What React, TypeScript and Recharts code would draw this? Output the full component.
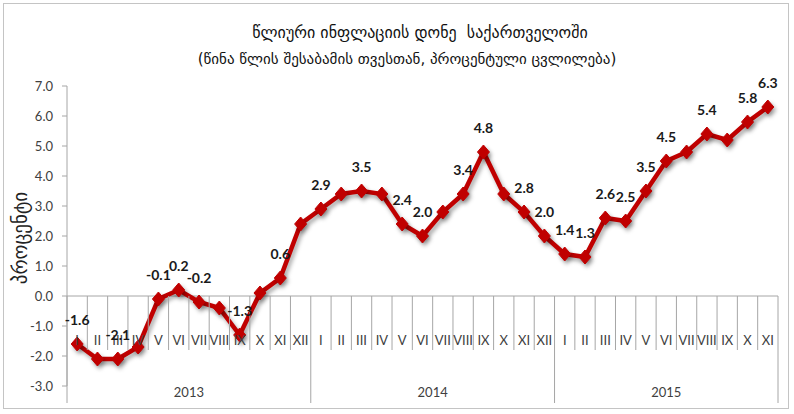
import React from 'react';
import { LineChart, Line, XAxis, YAxis, ReferenceLine, LabelList } from 'recharts';

// annual inflation, % change vs same month of previous year
const YEARS = ['2013', '2014', '2015'];
const MONTHS_2013 = ['I', 'II', 'III', 'IV', 'V', 'VI', 'VII', 'VIII', 'IX', 'X', 'XI', 'XII'];
const MONTHS_2014 = ['I', 'II', 'III', 'IV', 'V', 'VI', 'VII', 'VIII', 'IX', 'X', 'XI', 'XII'];
const MONTHS_2015 = ['I', 'II', 'III', 'IV', 'V', 'VI', 'VII', 'VIII', 'IX', 'X', 'XI'];
const VALUES_2013 = [-1.6, -2.1, -2.1, -1.7, -0.1, 0.2, -0.2, -0.4, -1.3, 0.1, 0.6, 2.4];
const VALUES_2014 = [2.9, 3.4, 3.5, 3.4, 2.4, 2.0, 2.8, 3.4, 4.8, 3.4, 2.8, 2.0];
const VALUES_2015 = [1.4, 1.3, 2.6, 2.5, 3.5, 4.5, 4.8, 5.4, 5.2, 5.8, 6.3];
// points whose value is written on the chart (index in the whole series)
const LABELLED = [0, 2, 4, 5, 6, 8, 10, 12, 14, 16, 17, 19, 20, 22, 23, 24, 25, 26, 27, 28, 29, 31, 33, 34];
const Y_TICKS = [-3, -2, -1, 0, 1, 2, 3, 4, 5, 6, 7];

const TITLE = 'წლიური ინფლაციის დონე  საქართველოში';
const SUBTITLE = '(წინა წლის შესაბამის თვესთან, პროცენტული ცვლილება)';
const Y_LABEL = 'პროცენტი';

const MONTHS = [MONTHS_2013, MONTHS_2014, MONTHS_2015];
const VALUES = [VALUES_2013, VALUES_2014, VALUES_2015];

const data = YEARS.flatMap((year, y) =>
  MONTHS[y].map((m, k) => ({ month: m, year, first: k === 0, count: MONTHS[y].length, v: VALUES[y][k] }))
).map((d, i) => ({ ...d, i }));

const W = 794;
const H = 414;
const TOP = 86;
const BOTTOM = 28;
const LEFT = 67;
const RIGHT = 16;
const PLOT_W = W - LEFT - RIGHT;
const PLOT_H = H - TOP - BOTTOM;
const Y_MIN = -3;
const Y_MAX = 7;
const ZERO_Y = TOP + (PLOT_H * Y_MAX) / (Y_MAX - Y_MIN);
const BAND = PLOT_W / data.length;

const RED = '#c00000';
const GRID = '#a6a6a6';
const FONT = 'Lato, "Open Sans", sans-serif';
const GEO = '"DejaVu Sans", sans-serif';

const MonthTick = (props: any) => {
  const { x, payload } = props;
  const d = data[payload.value];
  if (!d) return null;
  const half = BAND / 2;
  const last = d.i === data.length - 1;
  return (
    <g>
      <line x1={x - half} x2={x - half} y1={ZERO_Y} y2={ZERO_Y + (d.first ? 107 : 54)} stroke={GRID} />
      {last && <line x1={x + half} x2={x + half} y1={ZERO_Y} y2={ZERO_Y + 107} stroke={GRID} />}
      <text x={x} y={ZERO_Y + 44} textAnchor="middle" dominantBaseline="central" fontSize={13} fontFamily={FONT} fill="#404040">
        {d.month}
      </text>
      {d.first && (
        <text
          x={x - half + (d.count * BAND) / 2}
          y={ZERO_Y + 96}
          textAnchor="middle"
          dominantBaseline="central"
          fontSize={13}
          fontFamily={FONT}
          fill="#404040"
        >
          {d.year}
        </text>
      )}
    </g>
  );
};

const Diamond = (props: any) => {
  const { cx, cy, index } = props;
  if (cx == null || cy == null) return null;
  const r = 7;
  return (
    <polygon
      key={`dot-${index}`}
      points={`${cx},${cy - r} ${cx + r - 1},${cy} ${cx},${cy + r} ${cx - r + 1},${cy}`}
      fill={RED}
      stroke={RED}
      strokeWidth={1}
    />
  );
};

const ValueLabel = (props: any) => {
  const { x, y, value, index } = props;
  if (!LABELLED.includes(index)) return null;
  return (
    <text
      x={x}
      y={y - 25}
      textAnchor="middle"
      dominantBaseline="central"
      fontSize={14}
      fontWeight="bold"
      fontFamily={FONT}
      fill="#1a1a1a"
    >
      {Number(value).toFixed(1)}
    </text>
  );
};

const centered = (x: number, y: number): React.CSSProperties => ({
  position: 'absolute',
  left: x,
  top: y,
  transform: 'translate(-50%, -50%)',
  whiteSpace: 'pre',
  fontFamily: GEO,
  color: '#111',
});

export default function App() {
  return (
    <div style={{ position: 'absolute', left: 0, top: 0, width: W, height: H, background: '#fff' }}>
      <style>{`.recharts-line-curve, .recharts-line-dots { filter: drop-shadow(2px 3px 2px rgba(0,0,0,0.35)); }`}</style>
      <div
        style={{
          position: 'absolute',
          left: 3,
          top: 3,
          width: W - 8,
          height: H - 8,
          border: '1.5px solid #c4c4c4',
          boxSizing: 'border-box',
        }}
      />
      <div style={{ ...centered(420, 32), fontSize: 16 }}>{TITLE}</div>
      <div style={{ ...centered(407, 59), fontSize: 15 }}>{SUBTITLE}</div>
      <div
        style={{
          ...centered(20, 238),
          transform: 'translate(-50%, -50%) rotate(-90deg)',
          fontSize: 19,
          color: '#222',
        }}
      >
        {Y_LABEL}
      </div>
      <div style={{ position: 'absolute', left: 0, top: 0 }}>
        <LineChart width={W} height={H} data={data} margin={{ top: TOP, right: RIGHT, bottom: 0, left: 0 }}>
          <XAxis
            dataKey="i"
            type="number"
            domain={[-0.5, data.length - 0.5]}
            ticks={data.map((d) => d.i)}
            interval={0}
            height={BOTTOM}
            axisLine={false}
            tickLine={false}
            tick={<MonthTick />}
          />
          <YAxis
            width={LEFT}
            domain={[Y_MIN, Y_MAX]}
            ticks={Y_TICKS}
            interval={0}
            tickFormatter={(v: number) => v.toFixed(1)}
            axisLine={{ stroke: GRID }}
            tickLine={{ stroke: GRID }}
            tickSize={5}
            tickMargin={9}
            tick={{ fontSize: 13, fontFamily: FONT, fill: '#404040' }}
          />
          <ReferenceLine y={0} stroke={GRID} />
          <Line
            type="linear"
            dataKey="v"
            stroke={RED}
            strokeWidth={4.5}
            dot={Diamond}
            activeDot={false}
            isAnimationActive={false}
          >
            <LabelList dataKey="v" content={<ValueLabel />} />
          </Line>
        </LineChart>
      </div>
    </div>
  );
}
